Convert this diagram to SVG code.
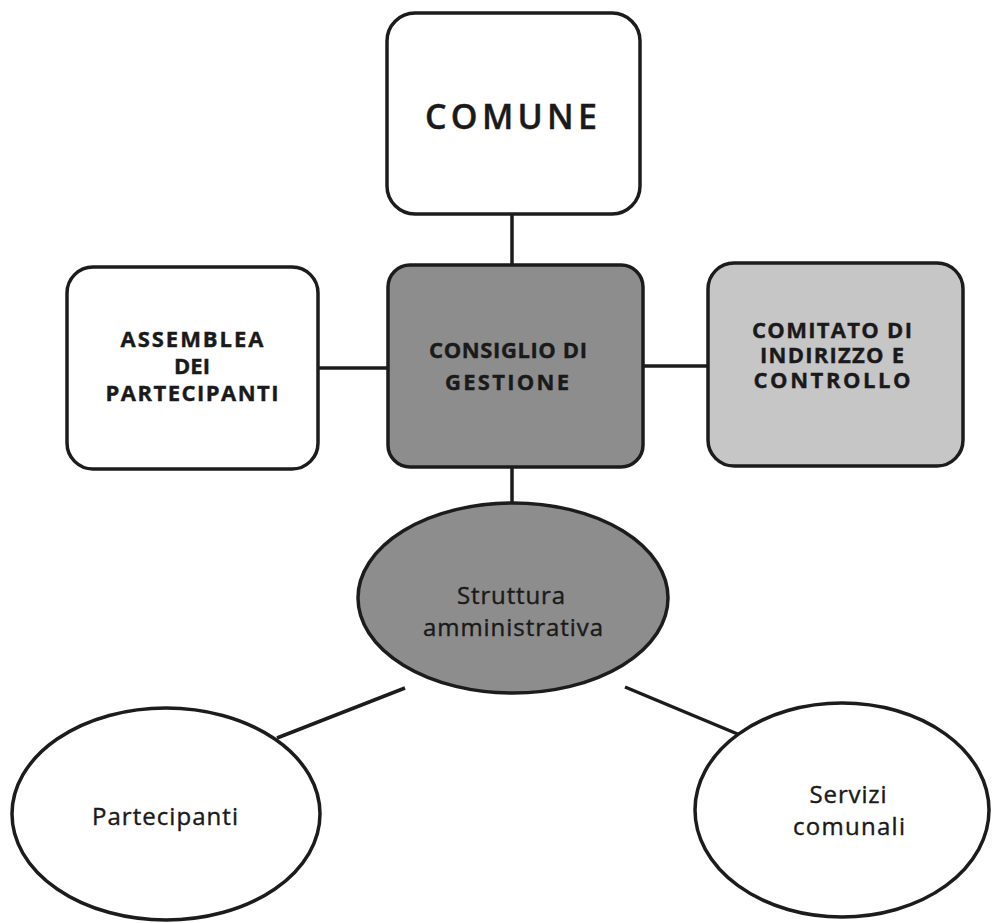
<svg xmlns="http://www.w3.org/2000/svg" width="992" height="923" viewBox="0 0 992 923">
  <style>
    .box { stroke: #1c1c1c; stroke-width: 3.5; }
    .white { fill: #ffffff; }
    .dark { fill: #8d8d8d; }
    .light { fill: #c6c6c6; }
    .edge { stroke: #1c1c1c; stroke-width: 3.5; fill: none; }
    text { font-family: "Open Sans", "Liberation Sans", sans-serif; fill: #1a1a1a; text-anchor: middle; stroke: #1a1a1a; stroke-width: 0.4; }
    .caps { font-weight: bold; font-size: 22px; }
    .big { font-weight: 600; font-size: 34px; }
    .lower { font-size: 24px; }
  </style>
  <rect width="992" height="923" fill="#ffffff"/>

  <!-- connectors -->
  <g id="connectors">
    <line class="edge" x1="512" y1="214" x2="512" y2="265"/>
    <line class="edge" x1="318" y1="368" x2="388" y2="368"/>
    <line class="edge" x1="642" y1="366" x2="708" y2="366"/>
    <line class="edge" x1="512" y1="467" x2="512" y2="504"/>
    <line class="edge" x1="405" y1="688" x2="277" y2="738"/>
    <line class="edge" x1="625" y1="687" x2="740" y2="735"/>
  </g>

  <g id="comune">
    <rect class="box white" x="387" y="13" width="253" height="201" rx="28" ry="28"/>
    <text class="big" x="511" y="129" textLength="172" lengthAdjust="spacing">COMUNE</text>
  </g>

  <g id="consiglio">
    <rect class="box dark" x="388" y="265" width="255" height="202" rx="22" ry="22"/>
    <text class="caps" x="508" y="358" textLength="158" lengthAdjust="spacing">CONSIGLIO DI</text>
    <text class="caps" x="507" y="390" textLength="124" lengthAdjust="spacing">GESTIONE</text>
  </g>

  <g id="assemblea">
    <rect class="box white" x="67" y="267" width="251" height="202" rx="26" ry="26"/>
    <text class="caps" x="192" y="347" textLength="143" lengthAdjust="spacing">ASSEMBLEA</text>
    <text class="caps" x="192" y="374">DEI</text>
    <text class="caps" x="192" y="401" textLength="173" lengthAdjust="spacing">PARTECIPANTI</text>
  </g>

  <g id="comitato">
    <rect class="box light" x="708" y="263" width="255" height="203" rx="26" ry="26"/>
    <text class="caps" x="832" y="338" textLength="160" lengthAdjust="spacing">COMITATO DI</text>
    <text class="caps" x="832" y="363" textLength="144" lengthAdjust="spacing">INDIRIZZO E</text>
    <text class="caps" x="832" y="388" textLength="157" lengthAdjust="spacing">CONTROLLO</text>
  </g>

  <g id="struttura">
    <ellipse class="box dark" cx="513" cy="598" rx="155" ry="95"/>
    <text class="lower" x="511" y="604" textLength="108" lengthAdjust="spacing">Struttura</text>
    <text class="lower" x="513" y="636" textLength="180" lengthAdjust="spacing">amministrativa</text>
  </g>

  <g id="partecipanti">
    <ellipse class="box white" cx="166" cy="814" rx="154" ry="106"/>
    <text class="lower" x="165" y="825" textLength="146" lengthAdjust="spacing">Partecipanti</text>
  </g>

  <g id="servizi">
    <ellipse class="box white" cx="842" cy="810" rx="147" ry="107"/>
    <text class="lower" x="848" y="803" textLength="77" lengthAdjust="spacing">Servizi</text>
    <text class="lower" x="849" y="835" textLength="112" lengthAdjust="spacing">comunali</text>
  </g>
</svg>
